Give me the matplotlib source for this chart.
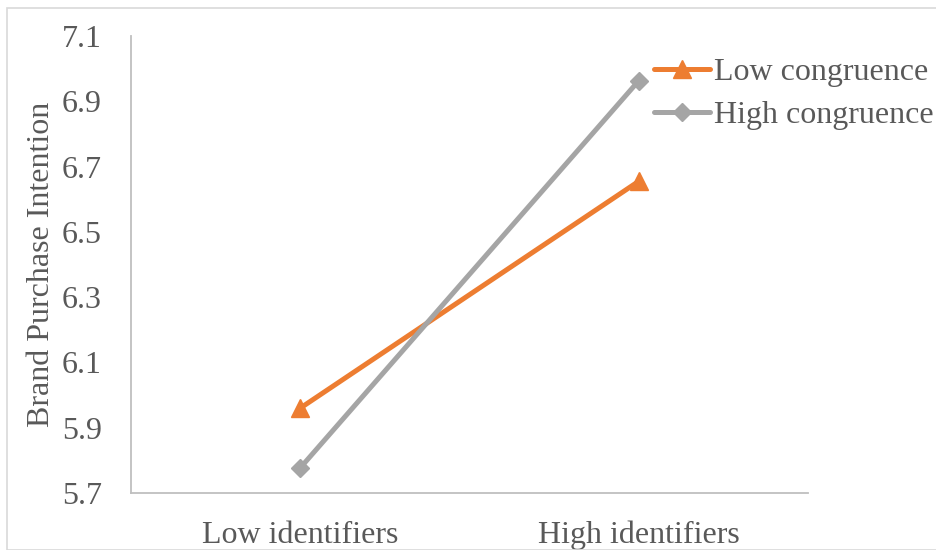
import matplotlib
matplotlib.use("Agg")
import matplotlib.pyplot as plt
from matplotlib.patches import Rectangle

# Data
groups = ["Low identifiers", "High identifiers"]
low_congruence = [5.96, 6.655]
high_congruence = [5.777, 6.963]
series_names = ["Low congruence", "High congruence"]
y_ticks = [5.7, 5.9, 6.1, 6.3, 6.5, 6.7, 6.9, 7.1]

plt.rcParams["font.family"] = ["Liberation Serif", "DejaVu Serif"]
text_color = "#595959"
axis_color = "#bfbfbf"
orange = "#ED7D31"
gray = "#A5A5A5"
FS = 23

fig = plt.figure(figsize=(9.36, 5.5), dpi=100)
ax = fig.add_axes([131 / 936, 1 - 493 / 550, (808 - 131) / 936, (493 - 36) / 550])

# outer frame of the chart area
fig.patches.append(Rectangle((7 / 936, 0), 1.2, 1 - 8 / 550, transform=fig.transFigure,
                             fill=False, edgecolor="#d9d9d9", linewidth=1.2))

x = list(range(len(groups)))
ax.plot(x, low_congruence, color=orange, linewidth=3.6, marker="^", markersize=13,
        label=series_names[0], solid_capstyle="round", solid_joinstyle="round")
ax.plot(x, high_congruence, color=gray, linewidth=3.6, marker="D", markersize=9.5,
        label=series_names[1], solid_capstyle="round", solid_joinstyle="round")

ax.set_xlim(-0.5, 1.5)
ax.set_ylim(5.7, 7.1)
ax.set_yticks(y_ticks)
ax.set_yticklabels([f"{v:.1f}" for v in y_ticks])
ax.set_xticks(x)
ax.set_xticklabels(groups)

for side in ["top", "right"]:
    ax.spines[side].set_visible(False)
for side in ["left", "bottom"]:
    ax.spines[side].set_color(axis_color)
    ax.spines[side].set_linewidth(1.3)

ax.tick_params(axis="both", length=0, colors=text_color)
ax.tick_params(axis="y", labelsize=FS, pad=21)
ax.tick_params(axis="x", labelsize=FS, pad=20)
ax.set_ylabel("Brand Purchase Intention", fontsize=FS, color=text_color, labelpad=4)

leg = fig.legend(loc="upper left", bbox_to_anchor=(654 / 936, 1 - 58 / 550), frameon=False,
                 fontsize=FS, handlelength=1.75, handletextpad=0.12, labelspacing=0.41,
                 borderpad=0, borderaxespad=0)
for t in leg.get_texts():
    t.set_color(text_color)

fig.savefig("out.png", dpi=100)
